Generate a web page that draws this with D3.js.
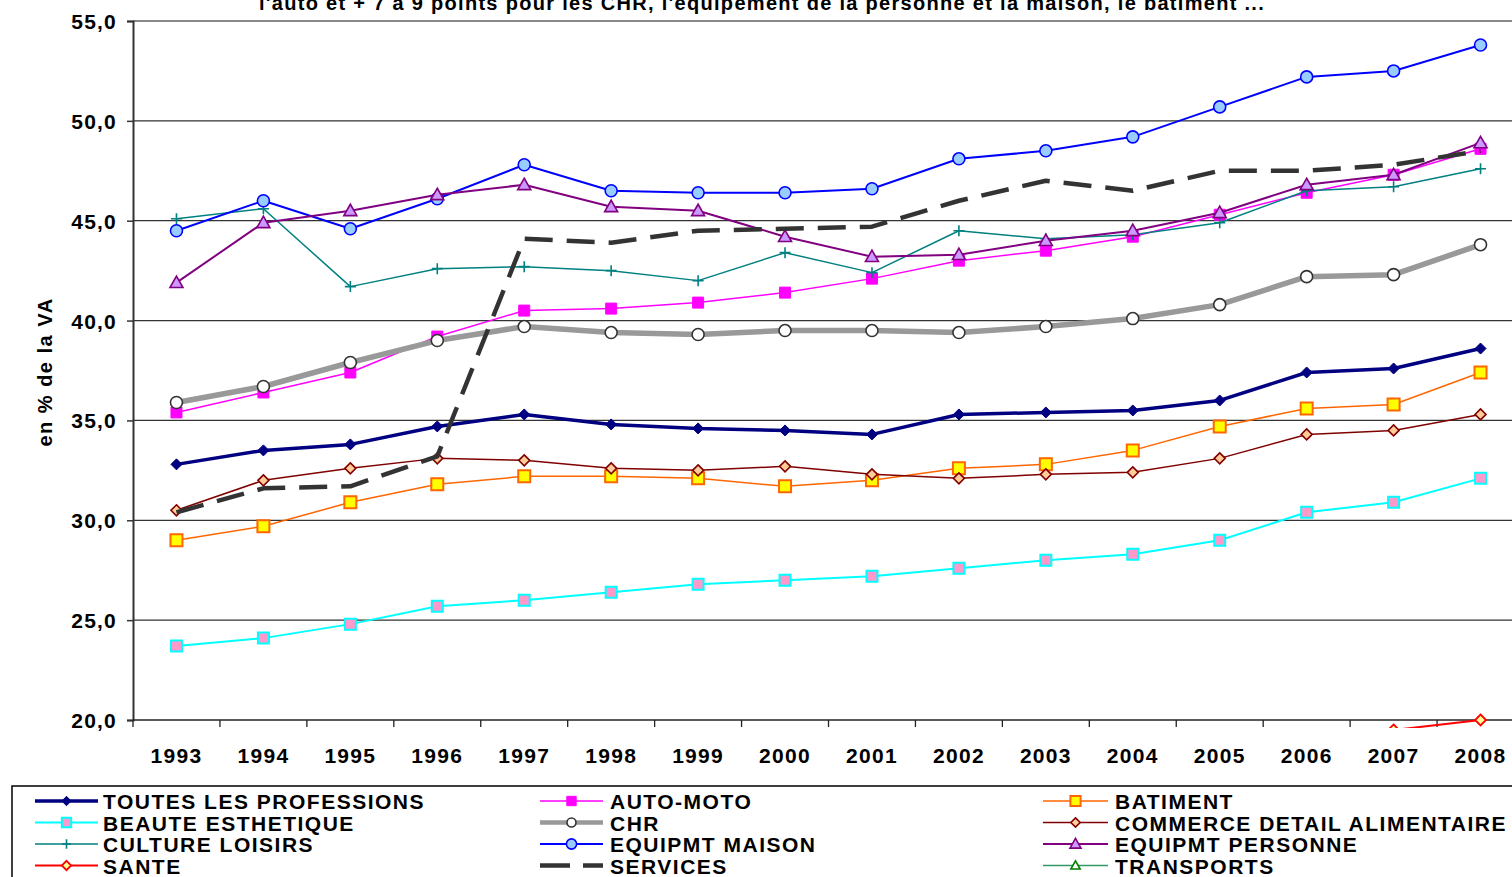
<!DOCTYPE html>
<html><head><meta charset="utf-8">
<script src="https://cdn.jsdelivr.net/npm/d3@7"></script>
<style>
body{margin:0;background:#fff;overflow:hidden}
svg{display:block}
text{font-family:"Liberation Sans",Arial,sans-serif;font-weight:bold;fill:#000}
</style></head>
<body><svg id="c" width="1512" height="877"></svg>
<script>
const years = ["1993","1994","1995","1996","1997","1998","1999","2000","2001","2002","2003","2004","2005","2006","2007","2008"];
const yTicks = [20,25,30,35,40,45,50,55];
const titleText = "l'auto et + 7 à 9 points pour les CHR, l'équipement de la personne et la maison,  le batiment ...";
const yTitle = "en % de la VA";

const toutes   = [32.8,33.5,33.8,34.7,35.3,34.8,34.6,34.5,34.3,35.3,35.4,35.5,36.0,37.4,37.6,38.6];
const autoMoto = [35.4,36.4,37.4,39.2,40.5,40.6,40.9,41.4,42.1,43.0,43.5,44.2,45.3,46.4,47.3,48.6];
const batiment = [29.0,29.7,30.9,31.8,32.2,32.2,32.1,31.7,32.0,32.6,32.8,33.5,34.7,35.6,35.8,37.4];
const beaute   = [23.7,24.1,24.8,25.7,26.0,26.4,26.8,27.0,27.2,27.6,28.0,28.3,29.0,30.4,30.9,32.1];
const chr      = [35.9,36.7,37.9,39.0,39.7,39.4,39.3,39.5,39.5,39.4,39.7,40.1,40.8,42.2,42.3,43.8];
const commerce = [30.5,32.0,32.6,33.1,33.0,32.6,32.5,32.7,32.3,32.1,32.3,32.4,33.1,34.3,34.5,35.3];
const culture  = [45.1,45.6,41.7,42.6,42.7,42.5,42.0,43.4,42.4,44.5,44.1,44.3,44.9,46.5,46.7,47.6];
const maison   = [44.5,46.0,44.6,46.1,47.8,46.5,46.4,46.4,46.6,48.1,48.5,49.2,50.7,52.2,52.5,53.8];
const personne = [41.9,44.9,45.5,46.3,46.8,45.7,45.5,44.2,43.2,43.3,44.0,44.5,45.4,46.8,47.3,48.9];
const sante    = [null,null,null,null,null,null,null,null,null,null,null,null,null,null,19.5,20.0];
const services = [30.4,31.6,31.7,33.2,44.1,43.9,44.5,44.6,44.7,46.0,47.0,46.5,47.5,47.5,47.8,48.5];
const transports = [null,null,null,null,null,null,null,null,null,null,null,null,null,null,null,null];

const names = ["TOUTES LES PROFESSIONS","AUTO-MOTO","BATIMENT","BEAUTE ESTHETIQUE","CHR","COMMERCE DETAIL ALIMENTAIRE","CULTURE LOISIRS","EQUIPMT MAISON","EQUIPMT PERSONNE","SANTE","SERVICES","TRANSPORTS"];

(function(){
const diamond = s => `M0,${-s}L${s},0L0,${s}L${-s},0Z`;
const square = s => `M${-s},${-s}H${s}V${s}H${-s}Z`;
const circle = s => `M${s},0A${s},${s} 0 1,1 ${-s},0A${s},${s} 0 1,1 ${s},0Z`;
const tri = s => `M0,${-s}L${s},${s*0.75}L${-s},${s*0.75}Z`;
const plus = s => `M${-s},0H${s}M0,${-s}V${s}`;

const series = [
 {name:names[0], values:toutes,   line:"#000080", w:3.5, m:diamond, ms:5.5, fill:"#000080", stroke:"#000080", sw:1},
 {name:names[1], values:autoMoto, line:"#FF00FF", w:1.5, m:square, ms:5.5, fill:"#FF00FF", stroke:"#FF00FF", sw:1},
 {name:names[2], values:batiment, line:"#FF6600", w:1.5, m:square, ms:6, fill:"#FFFF00", stroke:"#FF6600", sw:2},
 {name:names[3], values:beaute,   line:"#00FFFF", w:2, m:square, ms:5.5, fill:"#FF99CC", stroke:"#00FFFF", sw:2},
 {name:names[4], values:chr,      line:"#999999", w:5.5, m:circle, ms:6, fill:"#FFFFFF", stroke:"#333333", sw:1.6},
 {name:names[5], values:commerce, line:"#800000", w:1.5, m:diamond, ms:5.5, fill:"#FFCC99", stroke:"#800000", sw:1.6},
 {name:names[6], values:culture,  line:"#008080", w:1.5, m:plus, ms:5.5, fill:"none", stroke:"#008080", sw:1.6},
 {name:names[7], values:maison,   line:"#0000FF", w:2, m:circle, ms:6, fill:"#99CCFF", stroke:"#0000FF", sw:1.6},
 {name:names[8], values:personne, line:"#800080", w:2, m:tri, ms:6.5, fill:"#CC99FF", stroke:"#800080", sw:1.6},
 {name:names[9], values:sante,    line:"#FF0000", w:2, m:diamond, ms:5.5, fill:"#FFFF99", stroke:"#FF0000", sw:1.8},
 {name:names[10],values:services, line:"#333333", w:4.5, m:null, dash:"28,14"},
 {name:names[11],values:transports,line:"#339966", w:1.5, m:tri, ms:5.5, fill:"#FFFFFF", stroke:"#008000", sw:1.6}
];

const svg = d3.select("#c");
const pL = 133, pR = 1524, pT = 21, pB = 720;
const x = d3.scaleBand().domain(years).range([pL, pR]);
const xc = d => x(d) + x.bandwidth()/2;
const y = d3.scaleLinear().domain([20,55]).range([pB, pT]);
const fmt = v => d3.format(".1f")(v).replace(".", ",");

svg.append("text").attr("x", 762).attr("y", 10).attr("text-anchor","middle")
  .attr("font-size", 20).attr("letter-spacing", "1.3px").text(titleText);

svg.append("g").selectAll("line").data(yTicks.filter(t => t > 20 && t < 55)).join("line")
  .attr("x1", pL).attr("x2", 1512).attr("y1", d => y(d)).attr("y2", d => y(d))
  .attr("stroke", "#333").attr("stroke-width", 1.2);
svg.append("line").attr("x1", pL).attr("x2", 1512).attr("y1", y(55)).attr("y2", y(55))
  .attr("stroke", "#888").attr("stroke-width", 2);

const ya = svg.append("g").attr("transform", `translate(${pL},0)`)
  .call(d3.axisLeft(y).tickValues(yTicks).tickFormat(fmt).tickSize(6).tickPadding(10));
ya.select(".domain").attr("stroke", "#333").attr("stroke-width", 2);
ya.selectAll(".tick line").attr("stroke", "#333").attr("stroke-width", 1.5);
ya.selectAll("text").attr("font-size", 21).attr("letter-spacing", "1.2px")
  .attr("font-family", '"Liberation Sans",Arial,sans-serif').attr("font-weight", "bold").attr("fill", "#000")
  .attr("dy", "0.36em");

svg.append("line").attr("x1", pL).attr("x2", 1512).attr("y1", pB).attr("y2", pB)
  .attr("stroke", "#222").attr("stroke-width", 1.5);
svg.append("g").selectAll("line").data(years).join("line")
  .attr("x1", d => x(d)).attr("x2", d => x(d)).attr("y1", pB).attr("y2", pB + 7)
  .attr("stroke", "#222").attr("stroke-width", 1.3);
svg.append("g").selectAll("text").data(years).join("text")
  .attr("x", d => xc(d)).attr("y", 763).attr("text-anchor", "middle")
  .attr("font-size", 21).attr("letter-spacing", "1.3px").text(d => d);

svg.append("text").attr("transform", "translate(52,372) rotate(-90)").attr("text-anchor","middle")
  .attr("font-size", 20).attr("letter-spacing", "1.5px").text(yTitle);

svg.append("clipPath").attr("id","clip").append("rect")
  .attr("x", pL).attr("y", 0).attr("width", 1512 - pL).attr("height", 728);
const plot = svg.append("g").attr("clip-path", "url(#clip)");

const line = d3.line().defined(d => d.v != null).x(d => xc(d.yr)).y(d => y(d.v));
series.forEach(s => {
  const pts = years.map((yr, i) => ({yr, v: s.values[i]}));
  const g = plot.append("g");
  g.append("path").datum(pts).attr("d", line).attr("fill", "none")
    .attr("stroke", s.line).attr("stroke-width", s.w)
    .attr("stroke-dasharray", s.dash || null).attr("stroke-linejoin","round");
  if (s.m) {
    g.selectAll("path.m").data(pts.filter(p => p.v != null)).join("path").attr("class","m")
      .attr("transform", p => `translate(${xc(p.yr)},${y(p.v)})`)
      .attr("d", s.m(s.ms)).attr("fill", s.fill).attr("stroke", s.stroke).attr("stroke-width", s.sw);
  }
});

svg.append("rect").attr("x", 12).attr("y", 786).attr("width", 1540).attr("height", 120)
  .attr("fill", "#fff").attr("stroke", "#000").attr("stroke-width", 1.5);
const colX = [[35,98,103],[540,603,610],[1043,1108,1115]];
const rowY = [801, 822.5, 844, 865.5];
series.forEach((s, i) => {
  const c = colX[i % 3], r = rowY[Math.floor(i / 3)];
  const g = svg.append("g");
  g.append("line").attr("x1", c[0]).attr("x2", c[1]).attr("y1", r).attr("y2", r)
    .attr("stroke", s.line).attr("stroke-width", Math.min(s.w, 4.5))
    .attr("stroke-dasharray", s.dash ? "30,13" : null);
  if (s.m) {
    g.append("path").attr("transform", `translate(${(c[0]+c[1])/2},${r})`)
      .attr("d", s.m(s.name === "CHR" ? 4.5 : s.ms * 0.85)).attr("fill", s.fill)
      .attr("stroke", s.stroke).attr("stroke-width", s.sw);
  }
  g.append("text").attr("x", c[2]).attr("y", r + 8).attr("font-size", 21)
    .attr("letter-spacing", "1.5px").text(s.name);
});
})();
</script></body></html>
